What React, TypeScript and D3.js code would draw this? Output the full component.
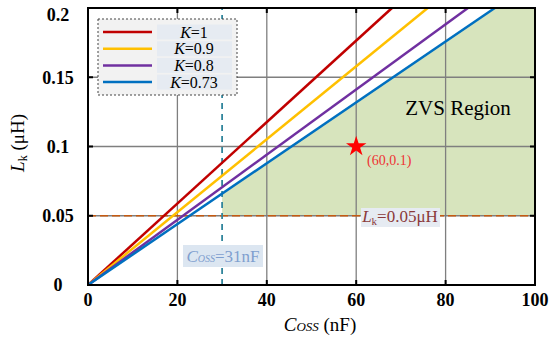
import * as d3 from "d3";

// K values and the C_OSS (nF) at which each line reaches L_k = 0.2 uH
const kLabels = ["1", "0.9", "0.8", "0.73"];
const cAtTop = [68, 76, 85, 91];
const lineColors = ["#c00000", "#ffc000", "#7030a0", "#0070c0"];

const xTicks = [0, 20, 40, 60, 80, 100];
const yTicks = [0, 0.05, 0.1, 0.15, 0.2];

const cossLimit = 30; // dashed vertical line
const lkLimit = 0.05; // dashed horizontal line
const opPoint = [60, 0.1];

const width = 550;
const height = 342;
const serif = "'Liberation Serif', 'Times New Roman', serif";

const App = () => {
  const x = d3.scaleLinear().domain([0, 100]).range([88, 535]);
  const y = d3.scaleLinear().domain([0, 0.2]).range([285, 8]);

  const line = d3
    .line<[number, number]>()
    .x((d) => x(d[0]))
    .y((d) => y(d[1]));

  // ZVS region: right of C_OSS limit, above L_k limit, below K=0.73 line
  const cMin = cAtTop[cAtTop.length - 1];
  const lAt = (c: number) => (0.2 * c) / cMin;
  const region: [number, number][] = [
    [cossLimit, lkLimit],
    [100, lkLimit],
    [100, 0.2],
    [cMin, 0.2],
    [cossLimit, lAt(cossLimit)],
  ];

  const star = d3.symbol(d3.symbolStar, 130)();

  return (
    <svg
      width={width}
      height={height}
      style={{ position: "absolute", left: 0, top: 0, background: "#fff" }}
      fontFamily={serif}
    >
      {/* ZVS region */}
      <path d={line(region) + "Z"} fill="#d7e4bd" />

      {/* grid */}
      {xTicks.slice(1, -1).map((t) => (
        <line key={"gx" + t} x1={x(t)} x2={x(t)} y1={y(0)} y2={y(0.2)} stroke="#7f7f7f" strokeWidth={1.3} />
      ))}
      {yTicks.slice(1, -1).map((t) => (
        <line key={"gy" + t} x1={x(0)} x2={x(100)} y1={y(t)} y2={y(t)} stroke="#7f7f7f" strokeWidth={1.3} />
      ))}

      {/* limit lines */}
      <line x1={x(0)} x2={x(100)} y1={y(lkLimit)} y2={y(lkLimit)} stroke="#c55a11" strokeWidth={1.6} strokeDasharray="8 4" />
      <line x1={x(cossLimit)} x2={x(cossLimit)} y1={y(0)} y2={y(0.2)} stroke="#31859c" strokeWidth={1.8} strokeDasharray="6 5" />

      {/* K lines */}
      {cAtTop.map((c, i) => (
        <path
          key={"k" + i}
          d={line([[0, 0], [c, 0.2]]) ?? ""}
          fill="none"
          stroke={lineColors[i]}
          strokeWidth={2.5}
        />
      ))}

      {/* frame and inward ticks */}
      <rect x={x(0)} y={y(0.2)} width={x(100) - x(0)} height={y(0) - y(0.2)} fill="none" stroke="#000" strokeWidth={2} />
      {xTicks.slice(1, -1).map((t) => (
        <g key={"tx" + t} stroke="#000" strokeWidth={2}>
          <line x1={x(t)} x2={x(t)} y1={y(0)} y2={y(0) - 5} />
          <line x1={x(t)} x2={x(t)} y1={y(0.2)} y2={y(0.2) + 5} />
        </g>
      ))}
      {yTicks.slice(1, -1).map((t) => (
        <g key={"ty" + t} stroke="#000" strokeWidth={2}>
          <line x1={x(0)} x2={x(0) + 5} y1={y(t)} y2={y(t)} />
          <line x1={x(100)} x2={x(100) - 5} y1={y(t)} y2={y(t)} />
        </g>
      ))}

      {/* tick labels */}
      {xTicks.map((t) => (
        <text key={"lx" + t} x={x(t)} y={306} textAnchor="middle" fontSize={18} fontWeight="bold">
          {t}
        </text>
      ))}
      {yTicks.map((t) => (
        <text key={"ly" + t} x={58} y={Math.max(y(t), 15)} dy="0.35em" textAnchor="middle" fontSize={18} fontWeight="bold">
          {String(t)}
        </text>
      ))}

      {/* axis titles */}
      <text x={320} y={331} textAnchor="middle" fontSize={19}>
        <tspan fontStyle="italic">C</tspan>
        <tspan fontStyle="italic" fontSize={13}>OSS</tspan>
        <tspan> (nF)</tspan>
      </text>
      <text transform="translate(24,143) rotate(-90)" textAnchor="middle" fontSize={19}>
        <tspan fontStyle="italic">L</tspan>
        <tspan fontSize={12} dy={3}>k</tspan>
        <tspan dy={-3}> (μH)</tspan>
      </text>

      {/* legend */}
      <rect x={98} y={19} width={139} height={76} fill="#f2f2f2" stroke="#444" strokeWidth={1} strokeDasharray="2 2" />
      {kLabels.map((k, i) => {
        const ly = 32 + i * 16.7;
        return (
          <g key={"lg" + k}>
            <line x1={103} x2={152} y1={ly} y2={ly} stroke={lineColors[i]} strokeWidth={2.5} />
            <rect x={157} y={ly - 7.5} width={75} height={15} fill="#e6ebf2" />
            <text x={194} y={ly} dy="0.35em" textAnchor="middle" fontSize={16}>
              <tspan fontStyle="italic">K</tspan>={k}
            </text>
          </g>
        );
      })}

      {/* annotations */}
      <text x={458} y={115} textAnchor="middle" fontSize={21}>
        ZVS Region
      </text>
      <path d={star ?? ""} transform={`translate(${x(opPoint[0])},${y(opPoint[1])})`} fill="#ff0000" />
      <text x={367} y={165} fontSize={14} fill="#e33">
        ({opPoint[0]},{opPoint[1]})
      </text>

      <rect x={361} y={208} width={79} height={19} fill="#e6ebf2" />
      <text x={400} y={222} textAnchor="middle" fontSize={17} fill="#8b3a3a">
        <tspan fontStyle="italic">L</tspan>
        <tspan fontSize={11} dy={3}>k</tspan>
        <tspan dy={-3}>=0.05μH</tspan>
      </text>

      <rect x={183} y={245} width={80} height={22} fill="#dce6f1" />
      <text x={223} y={262} textAnchor="middle" fontSize={17} fill="#7f9fcf">
        <tspan fontStyle="italic">C</tspan>
        <tspan fontStyle="italic" fontSize={10}>OSS</tspan>
        <tspan>=31nF</tspan>
      </text>
    </svg>
  );
};

export default App;
